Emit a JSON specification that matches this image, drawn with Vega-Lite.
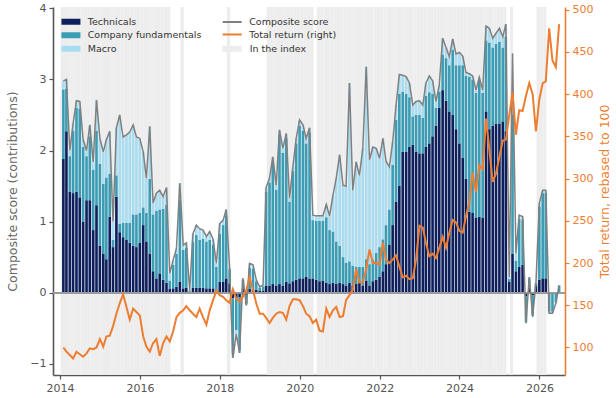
{
  "$schema": "https://vega.github.io/schema/vega-lite/v6.json",
  "width": 512,
  "height": 368,
  "autosize": {"type": "none"},
  "padding": {"left": 53, "top": 7, "right": 51, "bottom": 23},
  "background": "white",
  "config": {
    "view": {"stroke": null},
    "font": "DejaVu Sans",
    "axis": {"grid": false, "labelFont": "DejaVu Sans", "titleFont": "DejaVu Sans", "titleFontWeight": "normal"},
    "legend": {"labelFont": "DejaVu Sans", "labelFontSize": 9.5, "labelColor": "#333333", "padding": 0, "rowPadding": 2.5, "title": null}
  },
  "datasets": {
    "monthly": [
      {"d":"2014-01-31","tech":1.88,"comp":0.98,"macro":0.12,"score":2.98,"tr":100,"idx":1},
      {"d":"2014-02-28","tech":2.27,"comp":0.60,"macro":0.13,"score":3.00,"tr":95,"idx":1},
      {"d":"2014-03-31","tech":1.42,"comp":0.50,"macro":0.08,"score":2.00,"tr":91,"idx":1},
      {"d":"2014-04-30","tech":1.40,"comp":0.88,"macro":0.10,"score":2.38,"tr":87,"idx":1},
      {"d":"2014-05-31","tech":1.42,"comp":1.18,"macro":0.10,"score":2.70,"tr":95,"idx":1},
      {"d":"2014-06-30","tech":1.34,"comp":1.25,"macro":0.10,"score":2.69,"tr":92,"idx":1},
      {"d":"2014-07-31","tech":1.00,"comp":1.05,"macro":0.10,"score":2.15,"tr":89,"idx":1},
      {"d":"2014-08-31","tech":1.30,"comp":0.62,"macro":0.08,"score":2.00,"tr":93,"idx":1},
      {"d":"2014-09-30","tech":1.30,"comp":0.90,"macro":0.16,"score":2.36,"tr":99,"idx":1},
      {"d":"2014-10-31","tech":0.88,"comp":0.85,"macro":0.11,"score":1.84,"tr":98,"idx":1},
      {"d":"2014-11-30","tech":1.23,"comp":1.05,"macro":0.43,"score":2.71,"tr":100,"idx":1},
      {"d":"2014-12-31","tech":0.66,"comp":1.15,"macro":0.36,"score":2.17,"tr":110,"idx":1},
      {"d":"2015-01-31","tech":0.55,"comp":0.98,"macro":0.45,"score":1.98,"tr":101,"idx":1},
      {"d":"2015-02-28","tech":0.47,"comp":1.15,"macro":0.53,"score":2.15,"tr":113,"idx":1},
      {"d":"2015-03-31","tech":1.07,"comp":0.60,"macro":0.60,"score":2.27,"tr":114,"idx":1},
      {"d":"2015-04-30","tech":0.64,"comp":0.10,"macro":0.26,"score":1.00,"tr":125,"idx":1},
      {"d":"2015-05-31","tech":1.35,"comp":0.30,"macro":0.67,"score":2.32,"tr":140,"idx":1},
      {"d":"2015-06-30","tech":0.85,"comp":0.12,"macro":1.53,"score":2.50,"tr":152,"idx":1},
      {"d":"2015-07-31","tech":0.78,"comp":0.20,"macro":1.21,"score":2.19,"tr":163,"idx":1},
      {"d":"2015-08-31","tech":0.74,"comp":0.24,"macro":1.24,"score":2.22,"tr":148,"idx":1},
      {"d":"2015-09-30","tech":0.70,"comp":0.28,"macro":1.28,"score":2.26,"tr":133,"idx":1},
      {"d":"2015-10-31","tech":0.66,"comp":0.44,"macro":1.26,"score":2.36,"tr":146,"idx":1},
      {"d":"2015-11-30","tech":0.64,"comp":0.46,"macro":1.09,"score":2.19,"tr":142,"idx":1},
      {"d":"2015-12-31","tech":0.70,"comp":0.42,"macro":1.05,"score":2.17,"tr":138,"idx":1},
      {"d":"2016-01-31","tech":0.95,"comp":0.25,"macro":0.78,"score":1.98,"tr":113,"idx":1},
      {"d":"2016-02-29","tech":0.72,"comp":0.40,"macro":0.49,"score":1.61,"tr":101,"idx":1},
      {"d":"2016-03-31","tech":0.55,"comp":1.05,"macro":0.74,"score":2.34,"tr":95,"idx":1},
      {"d":"2016-04-30","tech":0.30,"comp":0.80,"macro":0.16,"score":1.26,"tr":105,"idx":1},
      {"d":"2016-05-31","tech":0.20,"comp":0.95,"macro":0.25,"score":1.40,"tr":110,"idx":1},
      {"d":"2016-06-30","tech":0.27,"comp":0.90,"macro":0.27,"score":1.44,"tr":90,"idx":1},
      {"d":"2016-07-31","tech":0.18,"comp":1.00,"macro":0.17,"score":1.35,"tr":105,"idx":1},
      {"d":"2016-08-31","tech":0.14,"comp":1.10,"macro":0.24,"score":1.48,"tr":113,"idx":1},
      {"d":"2016-09-30","tech":0.05,"comp":0.12,"macro":0.10,"score":0.27,"tr":107,"idx":1},
      {"d":"2016-10-31","tech":0.06,"comp":0.33,"macro":0.07,"score":0.46,"tr":119,"idx":0},
      {"d":"2016-11-30","tech":0.08,"comp":0.47,"macro":0.07,"score":0.62,"tr":136,"idx":0},
      {"d":"2016-12-31","tech":0.15,"comp":1.15,"macro":0.24,"score":1.54,"tr":141,"idx":0},
      {"d":"2017-01-31","tech":0.06,"comp":0.54,"macro":0.07,"score":0.67,"tr":144,"idx":1},
      {"d":"2017-02-28","tech":0.07,"comp":0.56,"macro":0.07,"score":0.70,"tr":149,"idx":0},
      {"d":"2017-03-31","tech":0.01,"comp":0.02,"macro":0.00,"score":0.03,"tr":144,"idx":0},
      {"d":"2017-04-30","tech":0.07,"comp":0.65,"macro":0.11,"score":0.83,"tr":140,"idx":0},
      {"d":"2017-05-31","tech":0.07,"comp":0.74,"macro":0.14,"score":0.95,"tr":136,"idx":0},
      {"d":"2017-06-30","tech":0.07,"comp":0.67,"macro":0.16,"score":0.90,"tr":146,"idx":0},
      {"d":"2017-07-31","tech":0.07,"comp":0.69,"macro":0.12,"score":0.88,"tr":136,"idx":0},
      {"d":"2017-08-31","tech":0.06,"comp":0.66,"macro":0.07,"score":0.79,"tr":127,"idx":0},
      {"d":"2017-09-30","tech":0.06,"comp":0.68,"macro":0.12,"score":0.86,"tr":144,"idx":0},
      {"d":"2017-10-31","tech":0.06,"comp":0.62,"macro":0.07,"score":0.75,"tr":156,"idx":0},
      {"d":"2017-11-30","tech":0.03,"comp":0.33,"macro":0.05,"score":0.41,"tr":167,"idx":0},
      {"d":"2017-12-31","tech":0.15,"comp":0.68,"macro":0.14,"score":0.97,"tr":162,"idx":0},
      {"d":"2018-01-31","tech":0.15,"comp":0.80,"macro":0.07,"score":1.02,"tr":160,"idx":0},
      {"d":"2018-02-28","tech":0.20,"comp":0.89,"macro":0.08,"score":1.17,"tr":156,"idx":0},
      {"d":"2018-03-31","tech":0.13,"comp":0.20,"macro":0.02,"score":0.35,"tr":153,"idx":1},
      {"d":"2018-04-30","tech":-0.08,"comp":-0.79,"macro":-0.05,"score":-0.92,"tr":169,"idx":0},
      {"d":"2018-05-31","tech":-0.08,"comp":-0.45,"macro":-0.05,"score":-0.58,"tr":158,"idx":0},
      {"d":"2018-06-30","tech":-0.07,"comp":-0.75,"macro":-0.03,"score":-0.85,"tr":154,"idx":0},
      {"d":"2018-07-31","tech":0.06,"comp":0.12,"macro":0.02,"score":0.20,"tr":160,"idx":0},
      {"d":"2018-08-31","tech":-0.04,"comp":-0.12,"macro":-0.02,"score":-0.18,"tr":168,"idx":0},
      {"d":"2018-09-30","tech":0.05,"comp":0.30,"macro":0.06,"score":0.41,"tr":183,"idx":0},
      {"d":"2018-10-31","tech":0.05,"comp":0.29,"macro":0.05,"score":0.39,"tr":168,"idx":0},
      {"d":"2018-11-30","tech":0.04,"comp":0.12,"macro":0.02,"score":0.18,"tr":152,"idx":0},
      {"d":"2018-12-31","tech":0.03,"comp":0.04,"macro":0.01,"score":0.08,"tr":140,"idx":0},
      {"d":"2019-01-31","tech":0.03,"comp":0.06,"macro":0.02,"score":0.11,"tr":140,"idx":0},
      {"d":"2019-02-28","tech":0.10,"comp":1.32,"macro":0.06,"score":1.48,"tr":135,"idx":0},
      {"d":"2019-03-31","tech":0.10,"comp":1.45,"macro":0.06,"score":1.61,"tr":129,"idx":1},
      {"d":"2019-04-30","tech":0.12,"comp":1.72,"macro":0.07,"score":1.91,"tr":135,"idx":1},
      {"d":"2019-05-31","tech":0.10,"comp":1.35,"macro":0.06,"score":1.51,"tr":140,"idx":1},
      {"d":"2019-06-30","tech":0.12,"comp":2.10,"macro":0.07,"score":2.29,"tr":142,"idx":1},
      {"d":"2019-07-31","tech":0.10,"comp":1.87,"macro":0.06,"score":2.03,"tr":141,"idx":1},
      {"d":"2019-08-31","tech":0.15,"comp":2.02,"macro":0.07,"score":2.24,"tr":133,"idx":1},
      {"d":"2019-09-30","tech":0.13,"comp":1.15,"macro":0.05,"score":1.33,"tr":149,"idx":1},
      {"d":"2019-10-31","tech":0.16,"comp":1.55,"macro":0.06,"score":1.77,"tr":157,"idx":1},
      {"d":"2019-11-30","tech":0.18,"comp":1.92,"macro":0.07,"score":2.17,"tr":157,"idx":1},
      {"d":"2019-12-31","tech":0.20,"comp":2.15,"macro":0.08,"score":2.43,"tr":156,"idx":1},
      {"d":"2020-01-31","tech":0.20,"comp":2.08,"macro":0.08,"score":2.36,"tr":149,"idx":1},
      {"d":"2020-02-29","tech":0.22,"comp":1.88,"macro":0.07,"score":2.17,"tr":140,"idx":1},
      {"d":"2020-03-31","tech":0.20,"comp":2.05,"macro":0.07,"score":2.32,"tr":137,"idx":1},
      {"d":"2020-04-30","tech":0.20,"comp":0.82,"macro":0.07,"score":1.09,"tr":129,"idx":1},
      {"d":"2020-05-31","tech":0.18,"comp":0.83,"macro":0.07,"score":1.08,"tr":133,"idx":0},
      {"d":"2020-06-30","tech":0.16,"comp":0.85,"macro":0.07,"score":1.08,"tr":120,"idx":1},
      {"d":"2020-07-31","tech":0.17,"comp":0.84,"macro":0.07,"score":1.08,"tr":119,"idx":1},
      {"d":"2020-08-31","tech":0.14,"comp":0.92,"macro":0.18,"score":1.24,"tr":146,"idx":1},
      {"d":"2020-09-30","tech":0.12,"comp":0.76,"macro":0.20,"score":1.08,"tr":136,"idx":1},
      {"d":"2020-10-31","tech":0.14,"comp":0.72,"macro":0.51,"score":1.37,"tr":144,"idx":1},
      {"d":"2020-11-30","tech":0.12,"comp":0.60,"macro":0.89,"score":1.61,"tr":148,"idx":1},
      {"d":"2020-12-31","tech":0.14,"comp":0.52,"macro":1.28,"score":1.94,"tr":136,"idx":1},
      {"d":"2021-01-31","tech":0.12,"comp":0.38,"macro":1.01,"score":1.51,"tr":137,"idx":1},
      {"d":"2021-02-28","tech":0.10,"comp":0.32,"macro":1.08,"score":1.50,"tr":156,"idx":1},
      {"d":"2021-03-31","tech":0.14,"comp":0.30,"macro":2.51,"score":2.95,"tr":162,"idx":1},
      {"d":"2021-04-30","tech":0.10,"comp":0.28,"macro":1.06,"score":1.44,"tr":168,"idx":1},
      {"d":"2021-05-31","tech":0.12,"comp":0.24,"macro":1.48,"score":1.84,"tr":193,"idx":1},
      {"d":"2021-06-30","tech":0.14,"comp":0.22,"macro":1.29,"score":1.65,"tr":177,"idx":1},
      {"d":"2021-07-31","tech":0.10,"comp":0.26,"macro":1.67,"score":2.03,"tr":177,"idx":1},
      {"d":"2021-08-31","tech":0.17,"comp":0.30,"macro":2.71,"score":3.18,"tr":193,"idx":1},
      {"d":"2021-09-30","tech":0.10,"comp":0.30,"macro":1.47,"score":1.87,"tr":216,"idx":1},
      {"d":"2021-10-31","tech":0.16,"comp":0.30,"macro":1.59,"score":2.05,"tr":200,"idx":1},
      {"d":"2021-11-30","tech":0.18,"comp":0.38,"macro":1.47,"score":2.03,"tr":200,"idx":1},
      {"d":"2021-12-31","tech":0.22,"comp":0.42,"macro":1.25,"score":1.89,"tr":198,"idx":1},
      {"d":"2022-01-31","tech":0.30,"comp":0.45,"macro":1.42,"score":2.17,"tr":224,"idx":1},
      {"d":"2022-02-28","tech":0.40,"comp":0.55,"macro":0.90,"score":1.85,"tr":204,"idx":1},
      {"d":"2022-03-31","tech":0.67,"comp":0.50,"macro":0.60,"score":1.77,"tr":200,"idx":1},
      {"d":"2022-04-30","tech":0.95,"comp":0.85,"macro":0.32,"score":2.12,"tr":204,"idx":1},
      {"d":"2022-05-31","tech":1.28,"comp":1.15,"macro":0.21,"score":2.64,"tr":209,"idx":1},
      {"d":"2022-06-30","tech":1.50,"comp":1.30,"macro":0.27,"score":3.07,"tr":196,"idx":1},
      {"d":"2022-07-31","tech":1.98,"comp":0.85,"macro":0.23,"score":3.06,"tr":183,"idx":1},
      {"d":"2022-08-31","tech":1.98,"comp":0.82,"macro":0.24,"score":3.04,"tr":185,"idx":1},
      {"d":"2022-09-30","tech":2.05,"comp":0.70,"macro":0.20,"score":2.95,"tr":181,"idx":1},
      {"d":"2022-10-31","tech":2.08,"comp":0.40,"macro":0.16,"score":2.64,"tr":182,"idx":1},
      {"d":"2022-11-30","tech":1.98,"comp":0.52,"macro":0.19,"score":2.69,"tr":204,"idx":1},
      {"d":"2022-12-31","tech":1.96,"comp":0.54,"macro":0.20,"score":2.70,"tr":244,"idx":1},
      {"d":"2023-01-31","tech":1.96,"comp":0.50,"macro":0.18,"score":2.64,"tr":242,"idx":1},
      {"d":"2023-02-28","tech":2.05,"comp":0.72,"macro":0.18,"score":2.95,"tr":224,"idx":1},
      {"d":"2023-03-31","tech":2.10,"comp":0.72,"macro":0.23,"score":3.05,"tr":208,"idx":1},
      {"d":"2023-04-30","tech":2.20,"comp":0.60,"macro":0.18,"score":2.98,"tr":211,"idx":1},
      {"d":"2023-05-31","tech":2.35,"comp":0.25,"macro":0.09,"score":2.69,"tr":206,"idx":1},
      {"d":"2023-06-30","tech":2.60,"comp":0.23,"macro":0.09,"score":2.92,"tr":218,"idx":1},
      {"d":"2023-07-31","tech":2.85,"comp":0.50,"macro":0.23,"score":3.58,"tr":231,"idx":1},
      {"d":"2023-08-31","tech":2.70,"comp":0.60,"macro":0.15,"score":3.45,"tr":218,"idx":1},
      {"d":"2023-09-30","tech":2.55,"comp":0.65,"macro":0.12,"score":3.32,"tr":236,"idx":1},
      {"d":"2023-10-31","tech":2.50,"comp":0.92,"macro":0.15,"score":3.57,"tr":251,"idx":1},
      {"d":"2023-11-30","tech":2.30,"comp":0.90,"macro":0.16,"score":3.36,"tr":248,"idx":1},
      {"d":"2023-12-31","tech":2.10,"comp":1.10,"macro":0.18,"score":3.38,"tr":238,"idx":1},
      {"d":"2024-01-31","tech":1.90,"comp":1.30,"macro":0.13,"score":3.33,"tr":236,"idx":1},
      {"d":"2024-02-29","tech":1.60,"comp":1.45,"macro":0.05,"score":3.10,"tr":255,"idx":1},
      {"d":"2024-03-31","tech":1.14,"comp":1.90,"macro":0.04,"score":3.08,"tr":272,"idx":1},
      {"d":"2024-04-30","tech":1.12,"comp":1.88,"macro":0.05,"score":3.05,"tr":307,"idx":1},
      {"d":"2024-05-31","tech":1.05,"comp":1.76,"macro":0.04,"score":2.85,"tr":284,"idx":1},
      {"d":"2024-06-30","tech":1.07,"comp":1.92,"macro":0.04,"score":3.03,"tr":316,"idx":1},
      {"d":"2024-07-31","tech":1.05,"comp":1.76,"macro":0.04,"score":2.85,"tr":311,"idx":1},
      {"d":"2024-08-31","tech":2.55,"comp":1.00,"macro":0.20,"score":3.75,"tr":371,"idx":1},
      {"d":"2024-09-30","tech":2.30,"comp":1.22,"macro":0.20,"score":3.72,"tr":334,"idx":1},
      {"d":"2024-10-31","tech":2.35,"comp":1.10,"macro":0.13,"score":3.58,"tr":296,"idx":1},
      {"d":"2024-11-30","tech":2.38,"comp":1.12,"macro":0.15,"score":3.65,"tr":306,"idx":1},
      {"d":"2024-12-31","tech":2.38,"comp":1.15,"macro":0.19,"score":3.72,"tr":326,"idx":1},
      {"d":"2025-01-31","tech":2.41,"comp":1.04,"macro":0.15,"score":3.60,"tr":345,"idx":1},
      {"d":"2025-02-28","tech":2.27,"comp":1.33,"macro":0.18,"score":3.78,"tr":346,"idx":1},
      {"d":"2025-03-31","tech":0.15,"comp":0.04,"macro":0.03,"score":0.22,"tr":375,"idx":0},
      {"d":"2025-04-30","tech":0.55,"comp":1.95,"macro":0.05,"score":3.37,"tr":402,"idx":1},
      {"d":"2025-05-31","tech":0.30,"comp":0.15,"macro":0.10,"score":0.55,"tr":352,"idx":0},
      {"d":"2025-06-30","tech":0.36,"comp":0.68,"macro":0.05,"score":1.09,"tr":381,"idx":0},
      {"d":"2025-07-31","tech":0.39,"comp":0.64,"macro":0.04,"score":1.07,"tr":380,"idx":0},
      {"d":"2025-08-31","tech":-0.05,"comp":-0.36,"macro":-0.02,"score":-0.43,"tr":398,"idx":0},
      {"d":"2025-09-30","tech":0.06,"comp":0.14,"macro":0.02,"score":0.22,"tr":413,"idx":0},
      {"d":"2025-10-31","tech":-0.04,"comp":-0.28,"macro":-0.02,"score":-0.34,"tr":400,"idx":0},
      {"d":"2025-11-30","tech":0.10,"comp":0.03,"macro":0.00,"score":0.13,"tr":356,"idx":0},
      {"d":"2025-12-31","tech":0.18,"comp":1.03,"macro":0.05,"score":1.26,"tr":394,"idx":1},
      {"d":"2026-01-31","tech":0.20,"comp":1.20,"macro":0.04,"score":1.44,"tr":413,"idx":1},
      {"d":"2026-02-28","tech":0.20,"comp":1.20,"macro":0.04,"score":1.44,"tr":415,"idx":1},
      {"d":"2026-03-31","tech":-0.02,"comp":-0.25,"macro":-0.02,"score":-0.29,"tr":478,"idx":0},
      {"d":"2026-04-30","tech":-0.02,"comp":-0.25,"macro":-0.02,"score":-0.29,"tr":440,"idx":0},
      {"d":"2026-05-31","tech":-0.02,"comp":-0.12,"macro":-0.01,"score":-0.15,"tr":432,"idx":0},
      {"d":"2026-06-30","tech":0.00,"comp":0.10,"macro":0.00,"score":0.10,"tr":483,"idx":0}
    ]
  },
  "data": {"name": "monthly"},
  "layer": [
    {
      "layer": [
        {
          "transform": [{"filter": "datum.idx == 1"}],
          "mark": {"type": "rect"},
          "encoding": {
            "x": {
              "field": "d", "type": "temporal", "timeUnit": "utcyearmonth",
              "scale": {"type": "utc", "domain": [{"year": 2013, "month": 12, "date": 13, "utc": true}, {"year": 2026, "month": 7, "date": 8, "utc": true}]},
              "axis": {
                "title": null,
                "values": [{"year": 2014, "utc": true}, {"year": 2016, "utc": true}, {"year": 2018, "utc": true}, {"year": 2020, "utc": true}, {"year": 2022, "utc": true}, {"year": 2024, "utc": true}, {"year": 2026, "utc": true}],
                "format": "%Y",
                "labelColor": "#555555", "labelFontSize": 11, "labelPadding": 3, "labelFlush": false,
                "domainColor": "#555555", "domainWidth": 1.6,
                "tickColor": "#555555", "tickSize": 4, "tickWidth": 1.2
              }
            },
            "color": {
              "datum": "In the index",
              "scale": {"range": ["#ededed"]},
              "legend": {
                "orient": "none", "legendX": 174.2, "legendY": 37,
                "symbolType": "M-2.375,-0.75L2.375,-0.75L2.375,0.75L-2.375,0.75Z", "symbolSize": 64, "symbolStrokeWidth": 0, "labelOffset": 13
              }
            }
          }
        },
        {
          "transform": [
            {"fold": ["tech", "comp", "macro"], "as": ["factor", "contrib"]},
            {"calculate": "indexof(['tech','comp','macro'], datum.factor)", "as": "stack_rank"}
          ],
          "mark": {"type": "bar", "width": 2.6},
          "encoding": {
            "x": {"field": "d", "type": "temporal"},
            "y": {
              "field": "contrib", "type": "quantitative", "stack": "zero",
              "scale": {"domain": [-1.16, 4.02], "nice": false, "zero": false},
              "axis": {
                "title": "Composite score (contributions)",
                "titleColor": "#666666", "titleFontSize": 12.5, "titlePadding": 10,
                "values": [-1, 0, 1, 2, 3, 4], "format": "d",
                "labelColor": "#555555", "labelFontSize": 11, "labelPadding": 3,
                "domainColor": "#555555", "domainWidth": 1.6,
                "tickColor": "#555555", "tickSize": 4, "tickWidth": 1.2
              }
            },
            "fill": {
              "field": "factor", "type": "nominal",
              "scale": {"domain": ["tech", "comp", "macro"], "range": ["#0d1f5c", "#3a9db5", "#a8dcf0"]},
              "legend": {
                "orient": "none", "legendX": 13.2, "legendY": 10,
                "symbolType": "M-2.375,-0.75L2.375,-0.75L2.375,0.75L-2.375,0.75Z", "symbolSize": 64, "symbolStrokeWidth": 0, "labelOffset": 12,
                "labelExpr": "datum.label == 'tech' ? 'Technicals' : datum.label == 'comp' ? 'Company fundamentals' : 'Macro'"
              }
            },
            "order": {"field": "stack_rank", "type": "quantitative"}
          }
        },
        {
          "mark": {"type": "rule", "color": "#9e9e9e", "strokeWidth": 1},
          "encoding": {"y": {"datum": 0}}
        },
        {
          "mark": {"type": "line", "strokeWidth": 1.5},
          "encoding": {
            "x": {"field": "d", "type": "temporal"},
            "y": {"field": "score", "type": "quantitative"},
            "stroke": {
              "datum": "Composite score",
              "scale": {"domain": ["Composite score", "Total return (right)"], "range": ["#808080", "#ed7d31"]},
              "legend": {
                "orient": "none", "legendX": 174.2, "legendY": 10,
                "symbolType": "M-2.375,0L2.375,0", "symbolSize": 64, "symbolStrokeWidth": 2, "labelOffset": 12
              }
            }
          }
        }
      ]
    },
    {
      "mark": {"type": "line", "strokeWidth": 2},
      "encoding": {
        "x": {"field": "d", "type": "temporal"},
        "y": {
          "field": "tr", "type": "quantitative",
          "scale": {"domain": [67.4, 503.2], "nice": false, "zero": false},
          "axis": {
            "orient": "right",
            "title": "Total return, rebased to 100",
            "titleColor": "#ed7d31", "titleFontSize": 12.5, "titlePadding": 19, "titleAngle": 270,
            "values": [100, 150, 200, 250, 300, 350, 400, 450, 500], "format": "d",
            "labelColor": "#ed7d31", "labelFontSize": 11, "labelPadding": 3,
            "domainColor": "#ed7d31", "domainWidth": 1.6,
            "tickColor": "#ed7d31", "tickSize": 4, "tickWidth": 1.2
          }
        },
        "stroke": {"datum": "Total return (right)"}
      }
    }
  ],
  "resolve": {"scale": {"y": "independent"}}
}
